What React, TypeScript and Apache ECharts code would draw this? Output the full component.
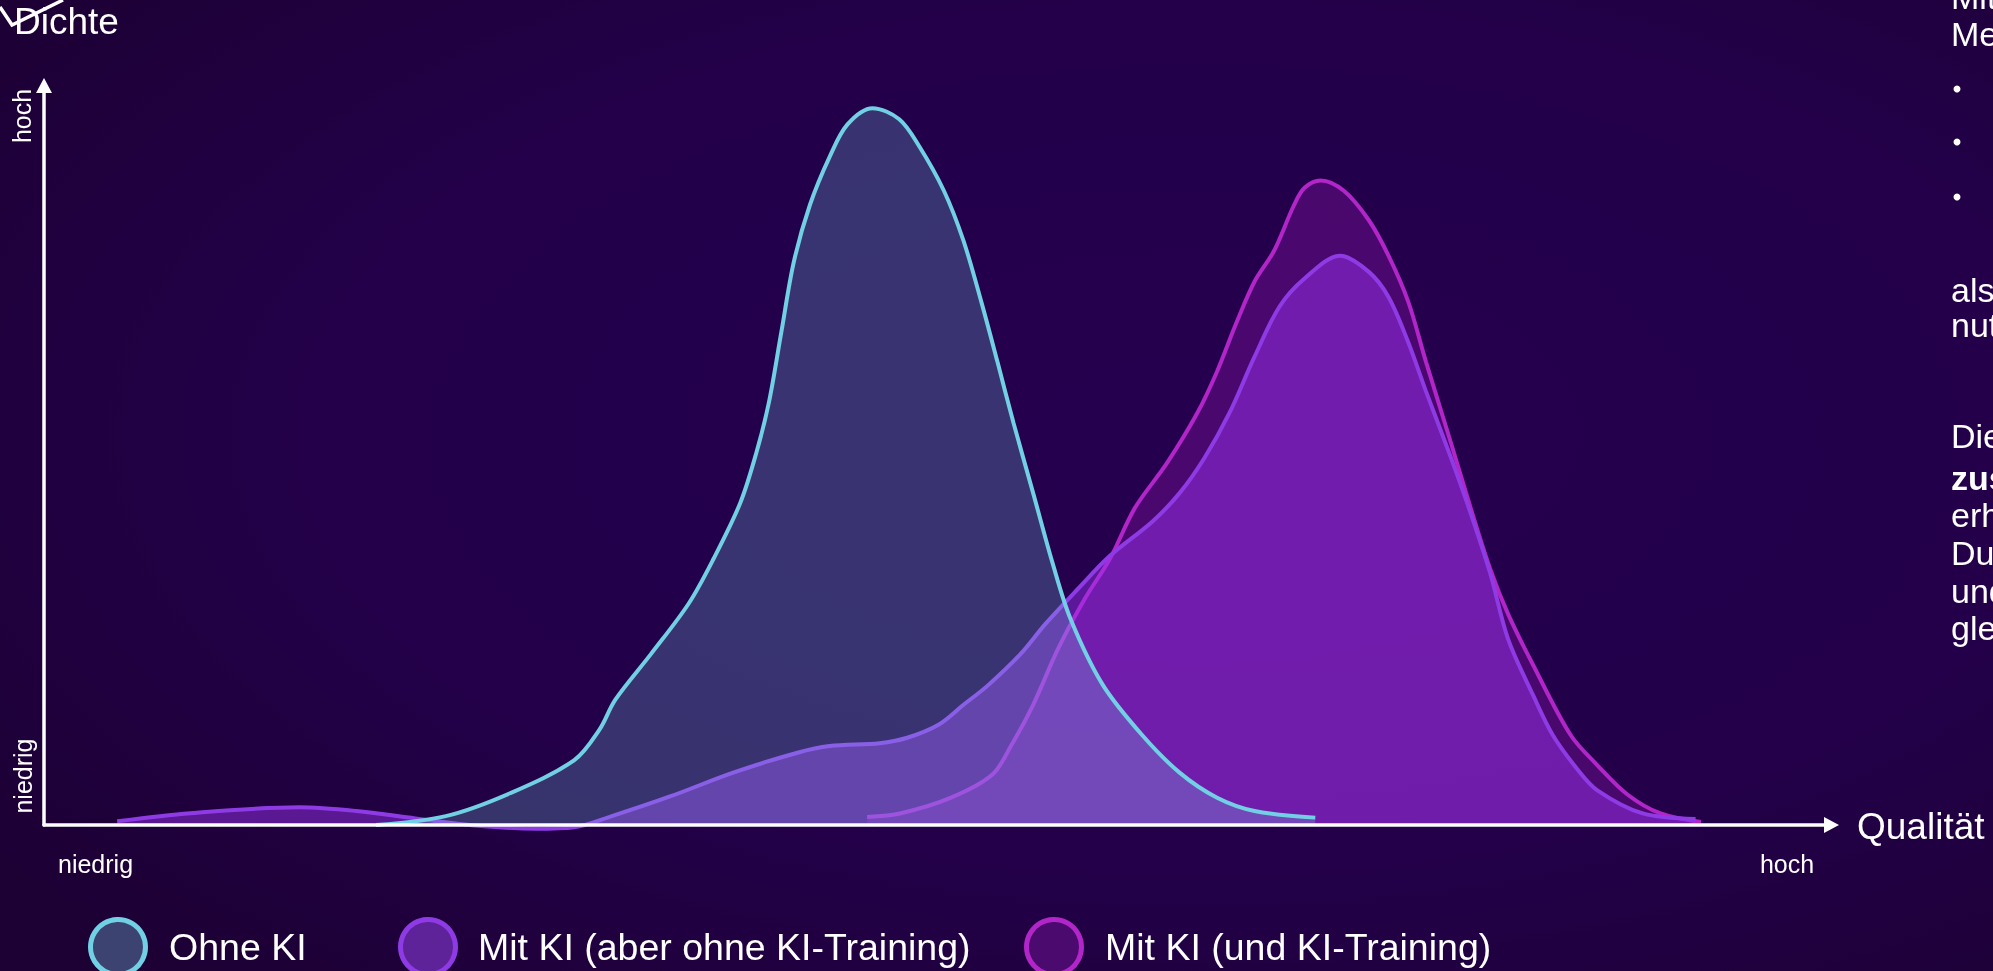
import React, { useEffect, useRef } from "react";
import * as echarts from "echarts";

// Quality (0 = niedrig, 100 = hoch) vs. density (0 = niedrig, 100 = hoch)
const ohneKI: [number, number][] = [
  [18.6, 0], [22.5, 1.2], [26.1, 4.3], [29.7, 8.8], [31.1, 12.9], [32.0, 17.0],
  [34.0, 23.2], [36.1, 30.0], [37.5, 36.1], [39.0, 43.7], [39.9, 50.5], [40.6, 57.3],
  [41.3, 66.9], [42.0, 76.4], [42.9, 84.1], [44.0, 90.6], [45.0, 95.0], [46.4, 97.2],
  [47.9, 95.7], [49.0, 92.1], [50.4, 86.0], [51.5, 79.2], [52.5, 70.9], [53.4, 62.8],
  [54.3, 54.5], [55.4, 45.0], [56.5, 35.4], [57.5, 27.9], [59.3, 19.0], [61.5, 12.2],
  [63.6, 7.1], [65.7, 3.7], [67.8, 1.9], [71.2, 1.0],
];

const mitKIohneTraining: [number, number][] = [
  [4.1, 0.5], [8.2, 1.6], [14.3, 2.4], [17.5, 1.9], [20.8, 0.9], [24.3, -0.1],
  [27.6, -0.5], [29.7, -0.3], [31.8, 1.2], [35.1, 3.9], [38.6, 7.1], [42.2, 9.8],
  [44.0, 10.7], [46.8, 11.1], [48.3, 11.8], [50.1, 13.6], [51.5, 16.3], [52.9, 19.0],
  [54.7, 23.2], [56.1, 27.3], [57.9, 32.0], [59.7, 36.5], [62.1, 41.2], [63.6, 45.0],
  [65.0, 49.8], [66.4, 55.9], [67.8, 63.5], [69.2, 70.3], [70.6, 74.1], [72.6, 77.2],
  [74.2, 75.0], [75.3, 71.6], [76.4, 65.5], [77.4, 58.8], [78.8, 49.8], [79.9, 42.3],
  [81.0, 34.1], [82.0, 25.2], [83.4, 17.6], [84.5, 12.2], [85.9, 7.5], [87.0, 4.7],
  [89.5, 1.6], [92.5, 0.8],
];

const mitKIundTraining: [number, number][] = [
  [46.1, 1.1], [48.0, 1.6], [50.8, 3.7], [53.1, 6.8], [54.2, 10.9], [55.4, 16.3],
  [56.8, 23.9], [58.3, 30.7], [59.7, 36.1], [61.1, 43.0], [62.9, 49.1], [64.6, 55.9],
  [65.7, 61.5], [66.8, 68.2], [67.8, 73.7], [68.9, 77.9], [70.0, 84.0], [70.6, 86.4],
  [71.5, 87.4], [72.8, 86.0], [74.2, 82.0], [75.3, 77.2], [76.4, 71.0], [77.4, 62.8],
  [78.8, 51.8], [79.9, 43.0], [81.0, 34.7], [82.0, 28.6], [83.4, 21.7], [85.5, 12.2],
  [87.0, 8.1], [88.7, 4.1], [90.5, 1.6], [92.8, 0.4],
];

const seriesNames = ["Ohne KI", "Mit KI (aber ohne KI-Training)", "Mit KI (und KI-Training)"];
const axisLowLabel = "niedrig";
const axisHighLabel = "hoch";
const yAxisTitle = "Dichte";
const xAxisTitle = "Qualität";
const sideTextLines = ["Mit", "Me", "als", "nut", "Die", "zus", "erh", "Dur", "und", "gle"];

const FONT = "'Liberation Sans', Arial, Helvetica, sans-serif";

export default function App() {
  const ref = useRef<HTMLDivElement>(null);

  useEffect(() => {
    if (!ref.current) return;
    const chart = echarts.init(ref.current, undefined, { renderer: "svg" });

    const white = "#ffffff";
    const legendItems = [
      { name: seriesNames[0], cx: 118, tx: 169, fill: "#3C4370", stroke: "#72D0E4" },
      { name: seriesNames[1], cx: 428, tx: 478, fill: "#5E2399", stroke: "#8E3BE6" },
      { name: seriesNames[2], cx: 1054, tx: 1105, fill: "#4B0A6E", stroke: "#B125C9" },
    ];

    const sideY = [-3, 34, 290, 325, 436, 478, 515, 553, 591, 628];

    const graphics: any[] = [
      // top-left stray mark
      {
        type: "polyline",
        shape: { points: [[0, 7], [12, 25], [63, 0]] },
        style: { stroke: white, lineWidth: 3.5, fill: null },
        z: 100,
      },
      {
        type: "text",
        x: 14,
        y: 21,
        style: { text: yAxisTitle, fill: white, font: `37px ${FONT}`, textAlign: "left", textVerticalAlign: "middle" },
        z: 99,
      },
      {
        type: "text",
        x: 1857,
        y: 826,
        style: { text: xAxisTitle, fill: white, font: `37px ${FONT}`, textAlign: "left", textVerticalAlign: "middle" },
      },
      {
        type: "text",
        x: 22,
        y: 116,
        rotation: Math.PI / 2,
        style: { text: axisHighLabel, fill: white, font: `25px ${FONT}`, textAlign: "center", textVerticalAlign: "middle" },
      },
      {
        type: "text",
        x: 23,
        y: 776,
        rotation: Math.PI / 2,
        style: { text: axisLowLabel, fill: white, font: `25px ${FONT}`, textAlign: "center", textVerticalAlign: "middle" },
      },
      {
        type: "text",
        x: 58,
        y: 864,
        style: { text: axisLowLabel, fill: white, font: `25px ${FONT}`, textAlign: "left", textVerticalAlign: "middle" },
      },
      {
        type: "text",
        x: 1787,
        y: 864,
        style: { text: axisHighLabel, fill: white, font: `25px ${FONT}`, textAlign: "center", textVerticalAlign: "middle" },
      },
    ];

    legendItems.forEach((it) => {
      graphics.push({
        type: "circle",
        shape: { cx: it.cx, cy: 947, r: 27.5 },
        style: { fill: it.fill, stroke: it.stroke, lineWidth: 5 },
      });
      graphics.push({
        type: "text",
        x: it.tx,
        y: 947,
        style: { text: it.name, fill: white, font: `37.5px ${FONT}`, textAlign: "left", textVerticalAlign: "middle" },
      });
    });

    sideTextLines.forEach((t, i) => {
      graphics.push({
        type: "text",
        x: 1951,
        y: sideY[i],
        style: {
          text: t,
          fill: white,
          font: `${i === 5 ? "bold " : ""}34px ${FONT}`,
          textAlign: "left",
          textVerticalAlign: "middle",
        },
      });
    });
    [89, 142, 197].forEach((y) => {
      graphics.push({
        type: "circle",
        shape: { cx: 1957, cy: y, r: 3.5 },
        style: { fill: white },
      });
    });

    const axisCommon = {
      type: "value" as const,
      axisTick: { show: false },
      axisLabel: { show: false },
      splitLine: { show: false },
      axisLine: {
        show: true,
        symbol: ["none", "triangle"],
        symbolSize: [16, 15],
        symbolOffset: [0, 2],
        lineStyle: { color: white, width: 3.5 },
      },
      z: 5,
    };

    chart.setOption({
      animation: false,
      backgroundColor: {
        type: "radial",
        x: 0.6,
        y: 0.45,
        r: 0.75,
        colorStops: [
          { offset: 0, color: "#25004F" },
          { offset: 0.6, color: "#230049" },
          { offset: 1, color: "#1D0034" },
        ],
      },
      grid: { left: 44, right: 163.5, top: 87.5, bottom: 146 },
      xAxis: { ...axisCommon, min: 0, max: 100, axisLine: { ...axisCommon.axisLine, onZero: true } },
      yAxis: { ...axisCommon, min: 0, max: 100 },
      series: [
        {
          name: seriesNames[2],
          type: "line",
          data: mitKIundTraining,
          smooth: 0.33,
          showSymbol: false,
          clip: false,
          lineStyle: { color: "#B125C9", width: 4 },
          areaStyle: { color: "rgba(125,18,155,0.62)" },
          z: 2,
        },
        {
          name: seriesNames[1],
          type: "line",
          data: mitKIohneTraining,
          smooth: 0.33,
          showSymbol: false,
          clip: false,
          lineStyle: { color: "#8E3BE6", width: 4 },
          areaStyle: { color: "rgba(155,50,240,0.68)" },
          z: 3,
        },
        {
          name: seriesNames[0],
          type: "line",
          data: ohneKI,
          smooth: 0.33,
          showSymbol: false,
          clip: false,
          lineStyle: { color: "#72D0E4", width: 4 },
          areaStyle: { color: "rgba(125,215,235,0.34)" },
          z: 4,
        },
      ],
      graphic: graphics,
    });

    return () => chart.dispose();
  }, []);

  return (
    <div
      ref={ref}
      style={{ position: "fixed", left: 0, top: 0, width: 1993, height: 971 }}
    />
  );
}
